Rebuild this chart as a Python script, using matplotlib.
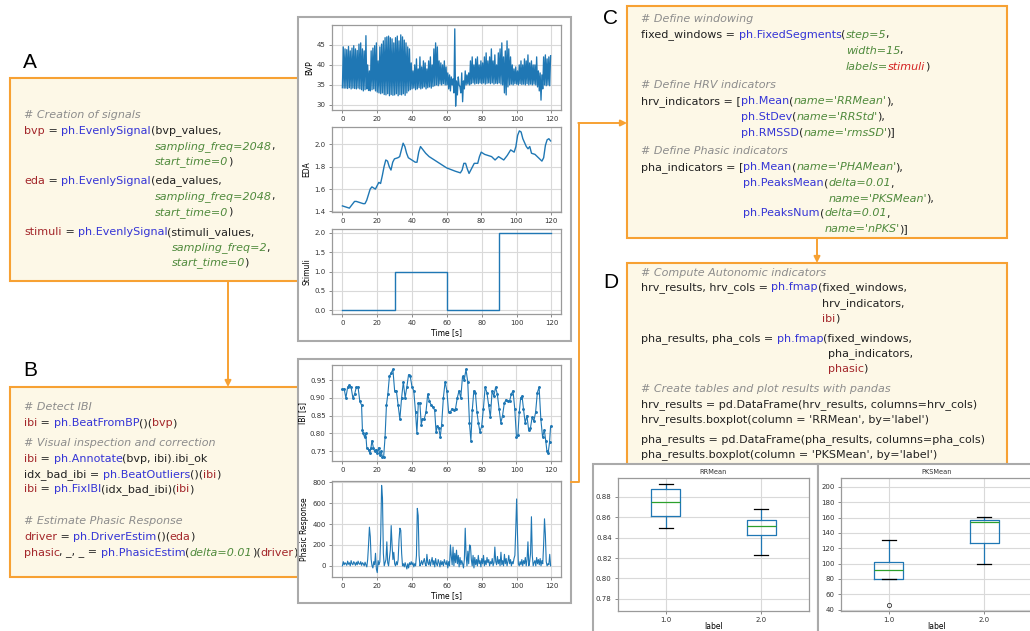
import numpy as np
import matplotlib
matplotlib.use('Agg')
import matplotlib.pyplot as plt
from matplotlib.patches import Rectangle
from matplotlib.font_manager import FontProperties

W, H = 1030, 631

# ---------------- signals ----------------
# BVP: one trough and one peak per second
bvp_trough = [34.3, 34.2, 34.2, 34.1, 34.3, 34.0, 34.2, 34.1, 34.0, 34.2,
              34.0, 33.8, 33.5, 33.8, 34.0, 33.6, 33.5, 33.8, 34.0, 33.5,
              33.2, 33.0, 32.8, 33.0, 32.6, 32.5, 32.8, 32.3, 32.6, 32.4,
              32.5, 32.8, 32.3, 32.6, 32.5, 32.8, 32.4, 33.0, 33.5, 33.8,
              34.0, 34.2, 33.8, 34.0, 34.3, 34.0, 34.2, 34.5, 34.0, 34.3,
              34.5, 34.2, 34.6, 34.8, 35.0, 34.8, 35.2, 35.0, 35.3, 35.0,
              35.0, 34.0, 33.5, 35.0, 33.0, 29.7, 32.5, 35.0, 33.0, 30.8,
              34.0, 35.0, 35.2, 35.0, 35.3, 35.5, 35.2, 35.4, 35.3, 35.5,
              35.3, 35.5, 35.2, 35.4, 35.5, 35.3, 35.5, 35.2, 35.4, 35.3,
              35.5, 35.2, 35.0, 33.0, 32.5, 34.5, 35.0, 35.2, 35.0, 35.3,
              35.2, 35.0, 35.3, 35.1, 35.2, 35.0, 35.3, 35.0, 35.2, 35.0,
              35.2, 35.0, 34.5, 33.5, 31.2, 34.0, 35.0, 34.8, 35.0, 34.8]
bvp_peak = [44.5, 44.0, 43.8, 44.6, 43.5, 44.2, 44.8, 44.0, 43.6, 45.2,
            45.5, 44.0, 43.5, 47.3, 40.0, 38.5, 43.5, 44.2, 44.8, 45.5,
            41.0, 44.5, 45.2, 46.0, 46.8, 47.0, 47.2, 46.8, 46.5, 45.5,
            46.8, 47.2, 46.0, 47.5, 47.0, 46.2, 45.5, 44.5, 44.0, 40.5,
            38.5, 40.0, 41.5, 39.0, 42.0, 39.5, 41.0, 40.5, 39.0, 41.0,
            42.0, 40.0, 44.0, 45.5, 44.5, 41.0, 40.5, 40.0, 41.0, 39.5,
            38.0, 37.5, 37.0, 36.5, 49.0, 36.0, 37.0, 34.5, 38.0, 36.0,
            38.5, 37.5, 38.0, 41.0, 42.0, 40.0, 41.5, 42.0, 40.0, 41.0,
            40.5, 42.0, 43.0, 41.0, 42.0, 44.0, 41.0, 42.5, 40.0, 43.0,
            44.0, 45.5, 42.0, 43.5, 46.0, 44.0, 42.0, 40.0, 39.0, 39.5,
            38.5, 40.0, 41.0, 40.0, 41.5, 41.0, 42.5, 40.5, 41.0, 40.0,
            40.0, 42.0, 38.5, 38.0, 37.5, 42.0, 42.5, 41.5, 42.0, 42.3]

eda_time = [0, 2, 4, 5, 7, 8, 10, 12, 13, 14, 15, 16, 17, 18, 19, 20, 21, 22,
            23, 24, 25, 26, 27, 28, 29, 30, 32, 33, 34, 35, 36, 37, 38, 40, 42,
            43, 44, 45, 46, 48, 50, 55, 60, 65, 68, 69, 70, 71, 72, 73, 74, 75,
            76, 78, 79, 80, 82, 84, 86, 88, 90, 91, 93, 95, 97, 99, 100, 101,
            102, 103, 104, 106, 107, 108, 109, 111, 113, 115, 116, 117, 118,
            119, 120]
eda_value = [1.45, 1.44, 1.43, 1.45, 1.49, 1.49, 1.48, 1.47, 1.47, 1.50, 1.55,
             1.60, 1.62, 1.61, 1.60, 1.63, 1.66, 1.65, 1.72, 1.80, 1.86, 1.85,
             1.80, 1.77, 1.84, 1.87, 1.88, 1.89, 1.95, 2.01, 1.98, 1.92, 1.88,
             1.86, 1.84, 1.84, 1.93, 1.98, 1.96, 1.92, 1.89, 1.84, 1.79, 1.76,
             1.745, 1.77, 1.83, 1.83, 1.78, 1.74, 1.77, 1.80, 1.83, 1.83, 1.89,
             1.93, 1.91, 1.90, 1.89, 1.86, 1.89, 1.88, 1.86, 1.90, 1.95, 1.93,
             1.98, 2.08, 2.12, 2.11, 2.05, 1.98, 1.96, 1.98, 1.92, 1.91, 1.88,
             1.85, 1.88, 1.99, 2.04, 2.05, 2.03]

stim_time = [0, 30, 60, 90, 119.5]
stim_value = [0, 1, 0, 2, 2]

ibi_time = [0, 1, 2, 3, 4, 5, 6, 7, 8, 9,
            10, 11, 11.5, 12, 12.7, 13.4, 14, 15, 15.7, 16.4,
            17, 17.8, 18.5, 19.3, 20, 20.8, 21.5, 22.2, 23, 23.7,
            24.5, 25.3, 26.1, 27, 28, 29, 30, 31, 32, 33,
            34, 35, 36, 37, 38, 39, 40, 41, 42, 42.8,
            43.6, 44.5, 45.3, 46, 47, 48, 49, 50, 51, 52,
            53, 53.8, 54.6, 55.4, 56.2, 57, 58, 59, 60, 61,
            62, 63, 64, 65, 66, 67, 68, 69, 70, 71,
            72, 73, 73.8, 74.6, 75.5, 76.4, 77.3, 78.1, 79, 80,
            81, 82, 83, 84, 85, 86, 87, 88, 89, 90,
            91, 92, 93, 94, 95, 96, 97, 98, 99, 100,
            100.8, 101.6, 102.4, 103.2, 104, 105, 106, 107, 108, 109,
            110, 111, 112, 113, 114, 115, 116, 116.8, 117.5, 118.2,
            119, 119.6]
ibi_value = [0.925, 0.925, 0.90, 0.93, 0.935, 0.93, 0.90, 0.91, 0.93, 0.93,
             0.89, 0.88, 0.81, 0.80, 0.79, 0.80, 0.76, 0.755, 0.745, 0.76,
             0.78, 0.76, 0.75, 0.755, 0.745, 0.76, 0.74, 0.75, 0.735, 0.735,
             0.79, 0.88, 0.91, 0.96, 0.97, 0.98, 0.92, 0.92, 0.88, 0.84,
             0.90, 0.945, 0.90, 0.93, 0.965, 0.96, 0.93, 0.92, 0.86, 0.80,
             0.885, 0.885, 0.825, 0.84, 0.84, 0.86, 0.91, 0.89, 0.88, 0.875,
             0.865, 0.805, 0.82, 0.815, 0.79, 0.825, 0.90, 0.945, 0.92, 0.86,
             0.86, 0.87, 0.865, 0.87, 0.90, 0.92, 0.90, 0.96, 0.95, 0.98,
             0.945, 0.83, 0.78, 0.865, 0.92, 0.915, 0.86, 0.83, 0.805, 0.82,
             0.87, 0.93, 0.915, 0.88, 0.845, 0.92, 0.905, 0.93, 0.91, 0.87,
             0.83, 0.85, 0.885, 0.895, 0.89, 0.89, 0.91, 0.92, 0.87, 0.79,
             0.795, 0.86, 0.90, 0.905, 0.87, 0.83, 0.85, 0.81, 0.815, 0.845,
             0.835, 0.86, 0.915, 0.93, 0.84, 0.79, 0.81, 0.78, 0.75, 0.745,
             0.775, 0.82]

# phasic response sampled at 2 Hz (one row = 10 s)
phasic_value = [
    0, 40, 10, 30, 20, 5, 45, 15, 30, 0, 50, 20, 10, 40, 25, 5, 35, 10, 45, 20,
    15, 40, 5, 30, 20, 0, 35, 10, -10, 60, 200, 370, 280, 60, 0, -20, 40, 10, 120, -30,
    -65, 50, 10, 40, 300, 770, 650, 120, 0, 30, 60, 230, 30, 0, 80, 150, 385, 200, 60, 130,
    20, 0, 40, 10, 60, 250, 360, 340, 120, 0, 20, -10, 30, 0, -30, 20, -20, 30, 10, 40,
    10, 30, -10, 20, 0, 100, 550, 480, 100, 0, 20, 50, 10, 40, 70, 20, 0, 110, 30, 10,
    60, 0, 40, 80, 10, 50, -10, 70, 20, 0, 60, 30, -10, 50, 10, 40, 0, 60, 30, 10,
    50, -20, 40, 0, 200, 90, 10, 180, 0, 120, 30, 150, 20, 100, -10, 80, 10, 50, 20, -20,
    60, 360, 100, 0, 140, 20, 200, 190, 60, 0, 100, -20, 80, 10, 60, 0, 100, 20, 50, -10,
    70, 20, 100, 0, 50, 10, 80, 30, 60, 0, 40, 20, 70, 0, 30, 180, 40, 10, 90, 20,
    60, 0, 130, 10, 50, 0, 110, 20, 70, 0, 40, 100, 20, 60, 0, 40, 20, 70, 100, 350,
    640, 300, 20, 0, 40, 10, 60, 0, 50, 20, 80, 0, 60, 230, 0, 40, 120, 470, 100, 0,
    30, 50, 0, 80, 20, 60, 10, 70, 0, 50, 20, 200, 450, 300, 40, 0, 20, 10, 110, 0]

# boxplot summaries per label
box_labels = ['1.0', '2.0']
rr_whislo = [0.849, 0.823]
rr_q1 = [0.861, 0.843]
rr_med = [0.875, 0.851]
rr_q3 = [0.888, 0.857]
rr_whishi = [0.893, 0.868]
pks_whislo = [80, 100]
pks_q1 = [80, 127]
pks_med = [92, 154]
pks_q3 = [102, 157]
pks_whishi = [131, 161]
pks_fliers = [[46], []]

# ---------------- colours ----------------
ORANGE = '#f7a133'
CREAM = '#fdf8e7'
GRAYBOX = '#aaaaaa'
STYLE = {'c': ('#8c8c8c', 'italic'),
         'v': ('#a3262a', 'normal'),
         'f': ('#3434d6', 'normal'),
         'k': ('#4f8a3c', 'italic'),
         't': ('#222222', 'normal'),
         'r': ('#d42020', 'italic')}
CODE_SIZE = 8.0

fig = plt.figure(figsize=(W / 100, H / 100), dpi=100)
cv = fig.add_axes([0, 0, 1, 1])
cv.set_xlim(0, W)
cv.set_ylim(H, 0)
cv.axis('off')


def ax_at(l, t, r, b):
    return fig.add_axes([l / W, 1 - b / H, (r - l) / W, (b - t) / H])


renderer = fig.canvas.get_renderer()
FONTS = {s: FontProperties(family='DejaVu Sans', style=s, size=CODE_SIZE)
         for s in ('normal', 'italic')}


def adv(s, sty='normal'):
    return renderer.get_text_width_height_descent(s, FONTS[sty], ismath=False)[0]


def put_line(x0, y, segs, pre=''):
    x = x0 + (adv(pre) if pre else 0.0)
    for txt, st in segs:
        col, sty = STYLE[st]
        # pull closing punctuation a bit tighter
        tight = -0.8 if txt[0] in '),' else 0.0
        cv.text(x + tight, y + 3.5, txt, color=col, fontstyle=sty,
                family='DejaVu Sans', fontsize=CODE_SIZE,
                ha='left', va='baseline', zorder=2)
        x += adv(txt, sty) + tight


# ---------------- boxes ----------------
for (x, y, w, h) in [(10, 78, 290, 203), (10, 387, 290, 190),
                     (627, 6, 380, 232), (627, 263, 380, 210)]:
    cv.add_patch(Rectangle((x, y), w, h, fc=CREAM, ec=ORANGE, lw=1.5, zorder=1))

for (x, y, w, h) in [(298, 17, 273, 324), (298, 359, 273, 244),
                     (593, 464, 225, 190), (818, 464, 230, 190)]:
    cv.add_patch(Rectangle((x, y), w, h, fc='white', ec=GRAYBOX, lw=1.5, zorder=3))

for lab, x, y in [('A', 30, 62), ('B', 30, 370), ('C', 611, 18), ('D', 611, 282)]:
    cv.text(x, y, lab, fontsize=15, family='Liberation Sans', ha='center',
            va='center', color='black')

# connectors
arrow = dict(arrowstyle='-|>', color=ORANGE, lw=1.4, mutation_scale=9,
             shrinkA=0, shrinkB=0)
cv.annotate('', xy=(228, 387), xytext=(228, 281), arrowprops=arrow, zorder=4)
cv.plot([571, 579, 579], [482, 482, 123], color=ORANGE, lw=1.4, zorder=4)
cv.annotate('', xy=(627, 123), xytext=(578.3, 123), arrowprops=arrow, zorder=4)
cv.annotate('', xy=(817, 263), xytext=(817, 238), arrowprops=arrow, zorder=4)

# ---------------- code A ----------------
xa = 24
p1 = 'bvp = ph.EvenlySignal('
put_line(xa, 114, [('# Creation of signals', 'c')])
put_line(xa, 130, [('bvp', 'v'), (' = ', 't'), ('ph.EvenlySignal', 'f'), ('(bvp_values,', 't')])
put_line(xa, 145.5, [('sampling_freq=2048', 'k'), (',', 't')], pre=p1)
put_line(xa, 161, [('start_time=0', 'k'), (')', 't')], pre=p1)
p2 = 'eda = ph.EvenlySignal('
put_line(xa, 180, [('eda', 'v'), (' = ', 't'), ('ph.EvenlySignal', 'f'), ('(eda_values,', 't')])
put_line(xa, 196, [('sampling_freq=2048', 'k'), (',', 't')], pre=p2)
put_line(xa, 211.5, [('start_time=0', 'k'), (')', 't')], pre=p2)
p3 = 'stimuli = ph.EvenlySignal('
put_line(xa, 231.5, [('stimuli', 'v'), (' = ', 't'), ('ph.EvenlySignal', 'f'), ('(stimuli_values,', 't')])
put_line(xa, 247, [('sampling_freq=2', 'k'), (',', 't')], pre=p3)
put_line(xa, 262, [('start_time=0', 'k'), (')', 't')], pre=p3)

# ---------------- code B ----------------
put_line(xa, 407, [('# Detect IBI', 'c')])
put_line(xa, 423, [('ibi', 'v'), (' = ', 't'), ('ph.BeatFromBP', 'f'), ('()(', 't'), ('bvp', 'v'), (')', 't')])
put_line(xa, 442, [('# Visual inspection and correction', 'c')])
put_line(xa, 458, [('ibi', 'v'), (' = ', 't'), ('ph.Annotate', 'f'), ('(bvp, ibi).ibi_ok', 't')])
put_line(xa, 474, [('idx_bad_ibi = ', 't'), ('ph.BeatOutliers', 'f'), ('()(', 't'), ('ibi', 'v'), (')', 't')])
put_line(xa, 489, [('ibi', 'v'), (' = ', 't'), ('ph.FixIBI', 'f'), ('(idx_bad_ibi)(', 't'), ('ibi', 'v'), (')', 't')])
put_line(xa, 521, [('# Estimate Phasic Response', 'c')])
put_line(xa, 536, [('driver', 'v'), (' = ', 't'), ('ph.DriverEstim', 'f'), ('()(', 't'), ('eda', 'v'), (')', 't')])
put_line(xa, 552, [('phasic', 'v'), (', _, _ = ', 't'), ('ph.PhasicEstim', 'f'), ('(', 't'),
                   ('delta=0.01', 'k'), (')(', 't'), ('driver', 'v'), (')', 't')])

# ---------------- code C ----------------
xc = 641
pc = 'fixed_windows = ph.FixedSegments('
put_line(xc, 18, [('# Define windowing', 'c')])
put_line(xc, 34, [('fixed_windows = ', 't'), ('ph.FixedSegments', 'f'), ('(', 't'), ('step=5', 'k'), (',', 't')])
put_line(xc, 50, [('width=15', 'k'), (',', 't')], pre=pc)
put_line(xc, 66, [('labels=', 'k'), ('stimuli', 'r'), (')', 't')], pre=pc)
put_line(xc, 85, [('# Define HRV indicators', 'c')])
ph_ = 'hrv_indicators = ['
put_line(xc, 101, [('hrv_indicators = [', 't'), ('ph.Mean', 'f'), ('(', 't'), ("name='RRMean'", 'k'), ('),', 't')])
put_line(xc, 116, [('ph.StDev', 'f'), ('(', 't'), ("name='RRStd'", 'k'), ('),', 't')], pre=ph_)
put_line(xc, 132, [('ph.RMSSD', 'f'), ('(', 't'), ("name='rmsSD'", 'k'), (')]', 't')], pre=ph_)
put_line(xc, 151, [('# Define Phasic indicators', 'c')])
pp = 'pha_indicators = ['
put_line(xc, 167, [('pha_indicators = [', 't'), ('ph.Mean', 'f'), ('(', 't'), ("name='PHAMean'", 'k'), ('),', 't')])
put_line(xc, 183, [('ph.PeaksMean', 'f'), ('(', 't'), ('delta=0.01', 'k'), (',', 't')], pre=pp)
put_line(xc, 198, [("name='PKSMean'", 'k'), ('),', 't')], pre=pp + 'ph.PeaksMean(')
put_line(xc, 213, [('ph.PeaksNum', 'f'), ('(', 't'), ('delta=0.01', 'k'), (',', 't')], pre=pp)
put_line(xc, 229, [("name='nPKS'", 'k'), (')]', 't')], pre=pp + 'ph.PeaksNum(')

# ---------------- code D ----------------
pd1 = 'hrv_results, hrv_cols = ph.fmap('
pd2 = 'pha_results, pha_cols = ph.fmap('
put_line(xc, 272, [('# Compute Autonomic indicators', 'c')])
put_line(xc, 287, [('hrv_results, hrv_cols = ', 't'), ('ph.fmap', 'f'), ('(fixed_windows,', 't')])
put_line(xc, 303, [('hrv_indicators,', 't')], pre=pd1)
put_line(xc, 318, [('ibi', 'v'), (')', 't')], pre=pd1)
put_line(xc, 338, [('pha_results, pha_cols = ', 't'), ('ph.fmap', 'f'), ('(fixed_windows,', 't')])
put_line(xc, 353, [('pha_indicators,', 't')], pre=pd2)
put_line(xc, 368, [('phasic', 'v'), (')', 't')], pre=pd2)
put_line(xc, 388, [('# Create tables and plot results with pandas', 'c')])
put_line(xc, 404, [('hrv_results = pd.DataFrame(hrv_results, columns=hrv_cols)', 't')])
put_line(xc, 419, [("hrv_results.boxplot(column = 'RRMean', by='label')", 't')])
put_line(xc, 439, [('pha_results = pd.DataFrame(pha_results, columns=pha_cols)', 't')])
put_line(xc, 454, [("pha_results.boxplot(column = 'PKSMean', by='label')", 't')])


# ---------------- signal plots ----------------
def style(ax):
    ax.grid(True, color='#d9d9d9', lw=0.8)
    ax.set_axisbelow(True)
    for s in ax.spines.values():
        s.set_color('#9a9a9a')
        s.set_linewidth(0.9)
    ax.tick_params(labelsize=5, length=2.5, width=0.6, color='#777777',
                   labelcolor='#333333', pad=2)


def sig_ax(l, t, r, b):
    ax = ax_at(l, t, r, b)
    style(ax)
    ax.set_xticks([0, 20, 40, 60, 80, 100, 120])
    return ax


ax = sig_ax(332, 25, 561, 110)
tb = np.arange(len(bvp_trough), dtype=float)
bx = np.empty(2 * len(tb))
by = np.empty(2 * len(tb))
bx[0::2], bx[1::2] = tb, tb + 0.5
by[0::2], by[1::2] = bvp_trough, bvp_peak
ax.plot(bx, by, color='C0', lw=0.95)
ax.set_yticks([30, 35, 40, 45])
ax.set_ylabel('BVP', fontsize=5.5, labelpad=2)

ax = sig_ax(332, 127, 561, 212)
ax.plot(eda_time, eda_value, color='C0', lw=1.0)
ax.set_yticks([1.4, 1.6, 1.8, 2.0])
ax.set_ylabel('EDA', fontsize=5.5, labelpad=2)

ax = sig_ax(332, 229, 561, 314)
ax.plot(stim_time, stim_value, color='C0', lw=1.0, drawstyle='steps-post')
ax.set_yticks([0, 0.5, 1.0, 1.5, 2.0])
ax.set_ylabel('Stimuli', fontsize=5.5, labelpad=2)
ax.set_xlabel('Time [s]', fontsize=5.5, labelpad=1)

ax = sig_ax(332, 365, 561, 461)
ax.plot(ibi_time, ibi_value, color='C0', lw=0.8, marker='o', ms=1.1)
ax.set_yticks([0.75, 0.80, 0.85, 0.90, 0.95])
ax.set_ylabel('IBI [s]', fontsize=5.5, labelpad=2)

ax = sig_ax(332, 481, 561, 577)
ax.plot(np.arange(len(phasic_value)) * 0.5, phasic_value, color='C0', lw=0.8)
ax.set_yticks([0, 200, 400, 600, 800])
ax.set_ylabel('Phasic Response', fontsize=5.5, labelpad=2)
ax.set_xlabel('Time [s]', fontsize=5.5, labelpad=1)


# ---------------- boxplots ----------------
def box_ax(l, r, title, lo, q1, med, q3, hi, fliers, yticks, ylim):
    ax = ax_at(l, 478, r, 611)
    style(ax)
    stats = [dict(label=box_labels[i], whislo=lo[i], q1=q1[i], med=med[i],
                  q3=q3[i], whishi=hi[i], fliers=fliers[i]) for i in range(2)]
    ax.bxp(stats, positions=[1, 2], widths=0.3,
           boxprops=dict(color='C0', lw=0.9), whiskerprops=dict(color='C0', lw=0.9),
           medianprops=dict(color='C2', lw=0.9), capprops=dict(color='k', lw=0.9),
           flierprops=dict(marker='o', mfc='none', mec='#333333', ms=3, mew=0.6))
    ax.set_xlim(0.5, 2.5)
    ax.set_yticks(yticks)
    ax.set_ylim(*ylim)
    ax.tick_params(axis='x', pad=1.5)
    ax.set_title(title, fontsize=4.8, pad=3, color='#333333')
    ax.set_xlabel('label', fontsize=5.5, labelpad=-0.5)
    return ax


box_ax(618, 809, 'RRMean', rr_whislo, rr_q1, rr_med, rr_q3, rr_whishi, [[], []],
       [0.78, 0.80, 0.82, 0.84, 0.86, 0.88], (0.768, 0.8985))
box_ax(841, 1032, 'PKSMean', pks_whislo, pks_q1, pks_med, pks_q3, pks_whishi, pks_fliers,
       [40, 60, 80, 100, 120, 140, 160, 180, 200], (38.3, 211.6))

fig.savefig('out.png', dpi=100)
